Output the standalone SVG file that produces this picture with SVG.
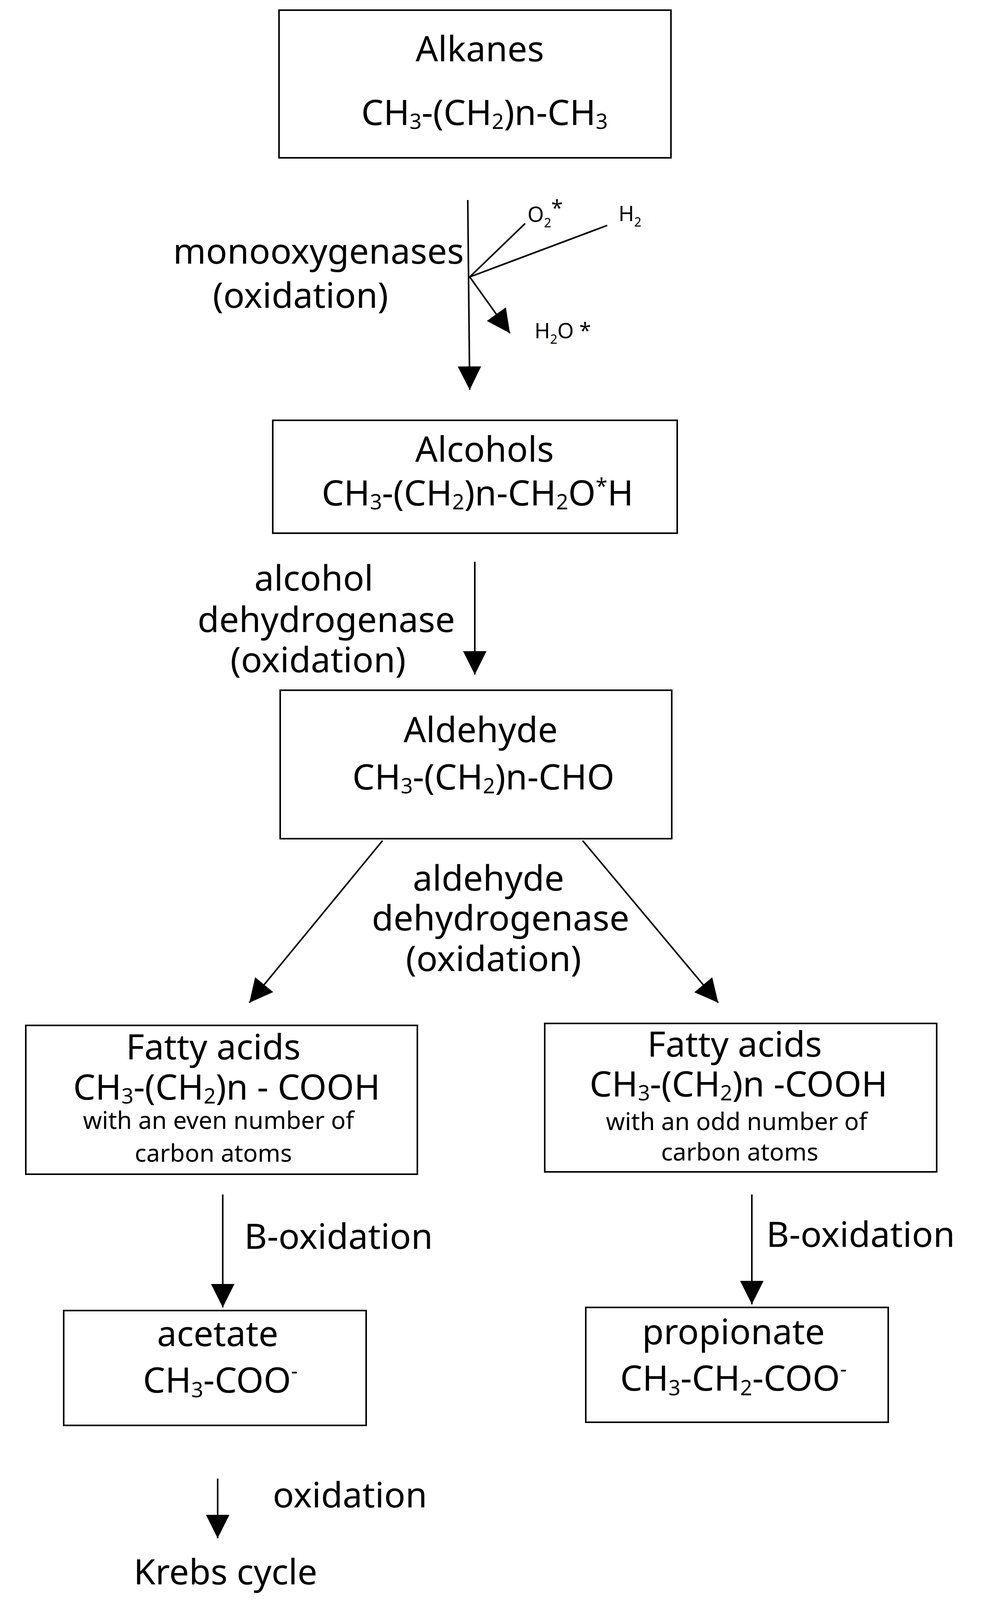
<svg xmlns="http://www.w3.org/2000/svg" width="2536" height="4140" viewBox="0 0 2536 4140">
<style>
text{font-family:"Noto Sans","Open Sans",sans-serif;fill:#000;text-anchor:middle}
.t{font-size:90px}
.s{font-size:62px}
.x{font-size:54px}
.sub{font-size:60%}
rect{fill:#fff;stroke:#000;stroke-width:4}
line{stroke:#000;stroke-width:4}
</style>
<defs><marker id="b" viewBox="0 0 10 10" refX="10" refY="5" markerWidth="15" markerHeight="15" orient="auto"><path d="M0,0L10,5L0,10z"/></marker></defs>
<g id="connectors">
<line x1="1197" y1="512" x2="1202" y2="998" marker-end="url(#b)"/>
<line x1="1202" y1="709" x2="1344" y2="572"/>
<line x1="1202" y1="709" x2="1554" y2="577"/>
<line x1="1202" y1="709" x2="1305" y2="853" marker-end="url(#b)"/>
<line x1="1215" y1="1438" x2="1215" y2="1727" marker-end="url(#b)"/>
<line x1="979" y1="2152" x2="638" y2="2567" marker-end="url(#b)"/>
<line x1="1491" y1="2152" x2="1838" y2="2567" marker-end="url(#b)"/>
<line x1="570" y1="3058" x2="570" y2="3347" marker-end="url(#b)"/>
<line x1="1924" y1="3058" x2="1924" y2="3339" marker-end="url(#b)"/>
<line x1="557" y1="3785" x2="557" y2="3938" marker-end="url(#b)"/>
</g>
<g id="labels">
<text class="t" x="1187" y="675" style="text-anchor:end">monooxygenases</text>
<text class="t" x="769" y="788">(oxidation)</text>
<text class="x" x="1395" y="568">O<tspan class="sub" dy="14">2</tspan><tspan dy="-30">*</tspan></text>
<text class="x" x="1612" y="566">H<tspan class="sub" dy="14">2</tspan></text>
<text class="x" x="1440" y="866">H<tspan class="sub" dy="14">2</tspan><tspan dy="-14">O *</tspan></text>
<text class="t" x="803" y="1512">alcohol</text>
<text class="t" x="835" y="1618">dehydrogenase</text>
<text class="t" x="814" y="1721">(oxidation)</text>
<text class="t" x="1250" y="2280">aldehyde</text>
<text class="t" x="1281" y="2382">dehydrogenase</text>
<text class="t" x="1263" y="2486">(oxidation)</text>
<text class="t" x="625" y="3197" style="text-anchor:start">B-oxidation</text>
<text class="t" x="1961" y="3192" style="text-anchor:start">B-oxidation</text>
<text class="t" x="698" y="3859" style="text-anchor:start">oxidation</text>
<text class="t" x="577" y="4056">Krebs cycle</text>
</g>
<g id="alkanes"><rect x="714" y="26" width="1003" height="378"/>
<text class="t" x="1228" y="157">Alkanes</text>
<text class="t" x="1240" y="320">CH<tspan class="sub" dy="10">3</tspan><tspan dy="-10">-(CH</tspan><tspan class="sub" dy="10">2</tspan><tspan dy="-10">)n-CH</tspan><tspan class="sub" dy="10">3</tspan></text></g>
<g id="alcohols"><rect x="698" y="1076" width="1035" height="289"/>
<text class="t" x="1240" y="1182">Alcohols</text>
<text class="t" x="1222" y="1294">CH<tspan class="sub" dy="10">3</tspan><tspan dy="-10">-(CH</tspan><tspan class="sub" dy="10">2</tspan><tspan dy="-10">)n-CH</tspan><tspan class="sub" dy="10">2</tspan><tspan dy="-10">O</tspan><tspan class="sub" dy="-30">*</tspan><tspan dy="30">H</tspan></text></g>
<g id="aldehyde"><rect x="717" y="1767" width="1002" height="380"/>
<text class="t" x="1230" y="1900">Aldehyde</text>
<text class="t" x="1237" y="2021">CH<tspan class="sub" dy="10">3</tspan><tspan dy="-10">-(CH</tspan><tspan class="sub" dy="10">2</tspan><tspan dy="-10">)n-CHO</tspan></text></g>
<g id="fatty-even"><rect x="66" y="2625" width="1002" height="381"/>
<text class="t" x="546" y="2712">Fatty acids</text>
<text class="t" x="580" y="2815">CH<tspan class="sub" dy="10">3</tspan><tspan dy="-10">-(CH</tspan><tspan class="sub" dy="10">2</tspan><tspan dy="-10">)n - COOH</tspan></text>
<text class="s" x="559" y="2890">with an even number of</text>
<text class="s" x="546" y="2974">carbon atoms</text></g>
<g id="fatty-odd"><rect x="1394" y="2620" width="1003" height="380"/>
<text class="t" x="1880" y="2705">Fatty acids</text>
<text class="t" x="1890" y="2807">CH<tspan class="sub" dy="10">3</tspan><tspan dy="-10">-(CH</tspan><tspan class="sub" dy="10">2</tspan><tspan dy="-10">)n -COOH</tspan></text>
<text class="s" x="1885" y="2893">with an odd number of</text>
<text class="s" x="1893" y="2971">carbon atoms</text></g>
<g id="acetate"><rect x="163" y="3355" width="774" height="294"/>
<text class="t" x="557" y="3446">acetate</text>
<text class="t" x="564" y="3565">CH<tspan class="sub" dy="12">3</tspan><tspan dy="-12">-COO</tspan><tspan class="sub" dy="-36">-</tspan></text></g>
<g id="propionate"><rect x="1499" y="3347" width="774" height="294"/>
<text class="t" x="1877" y="3441">propionate</text>
<text class="t" x="1877" y="3560">CH<tspan class="sub" dy="12">3</tspan><tspan dy="-12">-CH</tspan><tspan class="sub" dy="12">2</tspan><tspan dy="-12">-COO</tspan><tspan class="sub" dy="-36">-</tspan></text></g>
</svg>
